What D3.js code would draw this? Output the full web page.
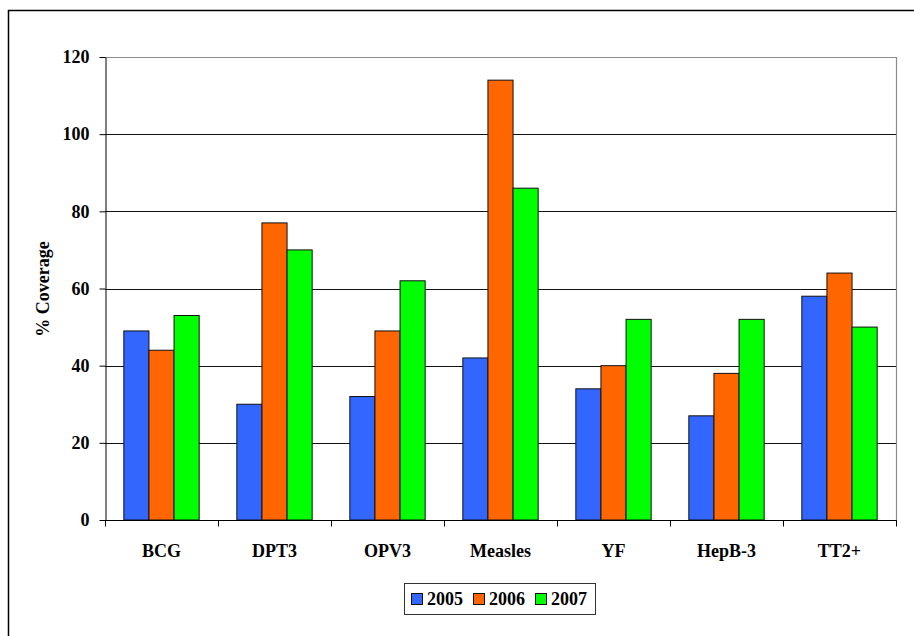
<!DOCTYPE html>
<html>
<head>
<meta charset="utf-8">
<script src="https://cdn.jsdelivr.net/npm/d3@7"></script>
<style>
  html, body { margin: 0; padding: 0; background: #fff; }
  svg { display: block; }
  text { font-family: "Liberation Serif", "DejaVu Serif", serif; font-weight: bold; fill: #000; }
</style>
</head>
<body>
<script>
const categories = ["BCG", "DPT3", "OPV3", "Measles", "YF", "HepB-3", "TT2+"];
const seriesNames = ["2005", "2006", "2007"];
const values2005 = [49, 30, 32, 42, 34, 27, 58];
const values2006 = [44, 77, 49, 114, 40, 38, 64];
const values2007 = [53, 70, 62, 86, 52, 52, 50];
const seriesColors = ["#3366FF", "#FF6600", "#00FF00"];
const yTicks = [0, 20, 40, 60, 80, 100, 120];

const seriesValues = [values2005, values2006, values2007];
const W = 914, H = 636;
const plot = { left: 105, top: 57, right: 896, bottom: 520 };

const svg = d3.select("body").append("svg").attr("width", W).attr("height", H);

// outer frame
svg.append("rect").attr("x", 8.5).attr("y", 10.5).attr("width", 1000).attr("height", 1000)
  .attr("fill", "none").attr("stroke", "#000").attr("stroke-width", 1.5);

const x0 = d3.scaleBand().domain(categories).range([plot.left, plot.right]).paddingInner(0).paddingOuter(0);
const bw = x0.bandwidth();
const gap = bw * 1.5 / 4.5;
const x1 = d3.scaleBand().domain(seriesNames).range([gap / 2, bw - gap / 2]).padding(0);
const y = d3.scaleLinear().domain([0, 120]).range([plot.bottom, plot.top]);

// gridlines
svg.append("g").selectAll("line").data(yTicks.filter(d => d > 0 && d < 120)).join("line")
  .attr("x1", plot.left).attr("x2", plot.right)
  .attr("y1", d => Math.round(y(d)) + 0.5).attr("y2", d => Math.round(y(d)) + 0.5)
  .attr("stroke", "#111").attr("stroke-width", 1);

// plot border top/right (gray)
svg.append("path")
  .attr("d", `M${plot.left},${plot.top + 0.5}H${plot.right + 0.5}V${plot.bottom}`)
  .attr("fill", "none").attr("stroke", "#8c8c8c").attr("stroke-width", 1.2);

// bars
const data = [];
categories.forEach((c, i) => seriesNames.forEach((s, j) => data.push({ c, s, v: seriesValues[j][i], j })));
svg.append("g").selectAll("rect").data(data).join("rect")
  .attr("x", d => x0(d.c) + x1(d.s))
  .attr("y", d => y(d.v))
  .attr("width", x1.bandwidth())
  .attr("height", d => y(0) - y(d.v))
  .attr("fill", d => seriesColors[d.j])
  .attr("stroke", "#111").attr("stroke-width", 1);

// y axis
const yAxis = d3.axisLeft(y).tickValues(yTicks).tickSize(6).tickPadding(10).tickSizeOuter(0);
const gy = svg.append("g").attr("transform", `translate(${plot.left + 0.5},0)`).call(yAxis);
gy.select(".domain").attr("stroke", "#000");
gy.selectAll(".tick line").attr("stroke", "#000");
gy.selectAll(".tick text").style("font-size", "18px").attr("font-family", null);

// x axis
const xTickScale = d3.scaleLinear().domain([0, categories.length]).range([plot.left, plot.right]);
const gx = svg.append("g").attr("transform", `translate(0,${plot.bottom + 0.5})`);
gx.append("line").attr("x1", plot.left).attr("x2", plot.right + 1).attr("stroke", "#000");
gx.selectAll("line.tk").data(d3.range(categories.length + 1)).join("line").attr("class", "tk")
  .attr("x1", d => Math.round(xTickScale(d)) + 0.5).attr("x2", d => Math.round(xTickScale(d)) + 0.5)
  .attr("y1", 0).attr("y2", 6).attr("stroke", "#000");
gx.selectAll("text").data(categories).join("text")
  .attr("x", d => x0(d) + bw / 2).attr("y", 36)
  .attr("text-anchor", "middle").style("font-size", "18px").text(d => d);

// y title
svg.append("text").attr("transform", "translate(49,289) rotate(-90)")
  .attr("text-anchor", "middle").style("font-size", "18px").text("% Coverage");

// legend
const lg = svg.append("g");
lg.append("rect").attr("x", 404.5).attr("y", 583.5).attr("width", 191).attr("height", 31)
  .attr("fill", "#fff").attr("stroke", "#333").attr("stroke-width", 1);
const legX = [411, 473, 535];
seriesNames.forEach((s, j) => {
  lg.append("rect").attr("x", legX[j] + 0.5).attr("y", 593.5).attr("width", 11).attr("height", 11)
    .attr("fill", seriesColors[j]).attr("stroke", "#111");
  lg.append("text").attr("x", legX[j] + 16).attr("y", 605).style("font-size", "18px").text(s);
});
</script>
</body>
</html>
